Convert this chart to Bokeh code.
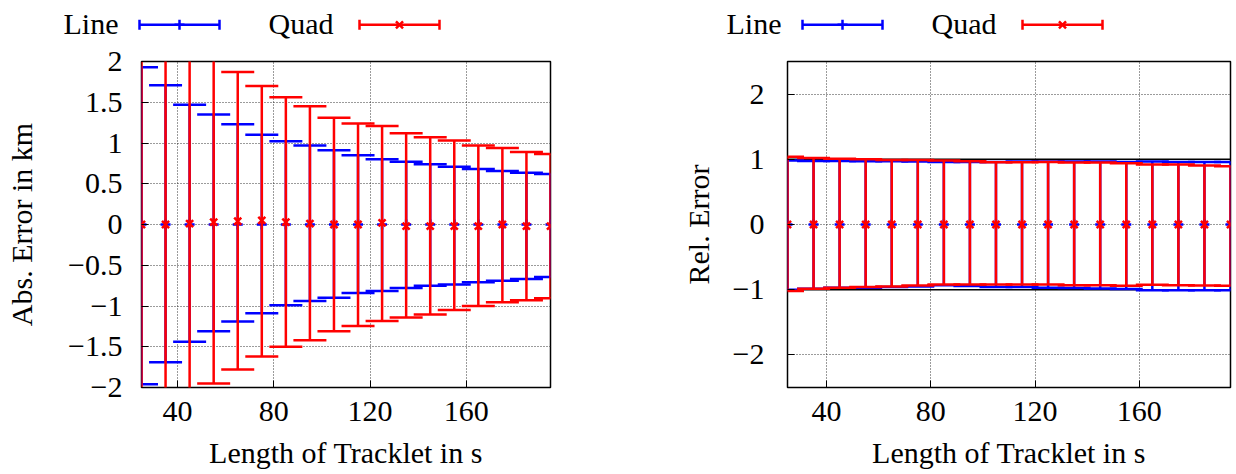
from bokeh.plotting import figure
from bokeh.layouts import row, column
from bokeh.models import Range1d, FixedTicker, CustomJSTickFormatter, ColumnDataSource
from bokeh.core.properties import value
from bokeh.embed import file_html
from bokeh.resources import INLINE

# ---------------- data ----------------
tracklet_len = [25, 35, 45, 55, 65, 75, 85, 95, 105, 115, 125, 135, 145, 155, 165, 175, 185, 195]

# absolute error (km)
line_abs_mid = [0.0, 0.0, 0.0, 0.0, 0.0, 0.0, 0.0, 0.0, 0.0, 0.0, 0.0, 0.0, 0.0, 0.0, 0.0, 0.0, 0.0, 0.0]
line_abs_hi = [1.93, 1.71, 1.47, 1.35, 1.23, 1.10, 1.02, 0.97, 0.91, 0.85, 0.80, 0.77, 0.74, 0.71, 0.68, 0.655, 0.635, 0.62]
line_abs_lo = [-1.96, -1.69, -1.44, -1.31, -1.19, -1.09, -0.99, -0.94, -0.90, -0.84, -0.815, -0.78, -0.75, -0.735, -0.71, -0.69, -0.67, -0.645]
quad_abs_mid = [0.0, 0.0, 0.01, 0.03, 0.04, 0.05, 0.03, 0.01, 0.0, 0.0, 0.02, -0.02, -0.02, -0.02, -0.02, 0.0, -0.02, -0.02]
quad_abs_hi = [2.9, 2.6, 2.3, 2.05, 1.87, 1.70, 1.56, 1.45, 1.31, 1.24, 1.21, 1.12, 1.07, 1.03, 0.97, 0.94, 0.89, 0.865]
quad_abs_lo = [-2.9, -2.6, -2.3, -1.95, -1.78, -1.62, -1.50, -1.42, -1.31, -1.245, -1.185, -1.14, -1.105, -1.05, -1.0, -0.955, -0.93, -0.905]

# relative error
line_rel_mid = [0.0, 0.0, 0.0, 0.0, 0.0, 0.0, 0.0, 0.0, 0.0, 0.0, 0.0, 0.0, 0.0, 0.0, 0.0, 0.0, 0.0, 0.0]
line_rel_hi = [0.98, 0.975, 0.975, 0.97, 0.97, 0.965, 0.96, 0.96, 0.96, 0.965, 0.965, 0.965, 0.965, 0.96, 0.965, 0.96, 0.96, 0.96]
line_rel_lo = [-1.0, -0.985, -0.97, -0.97, -0.96, -0.95, -0.93, -0.945, -0.96, -0.96, -0.97, -0.975, -0.98, -0.99, -1.01, -1.01, -1.01, -1.01]
quad_rel_mid = [0.0, 0.0, 0.0, 0.0, 0.0, 0.0, 0.0, 0.0, 0.0, 0.0, 0.0, 0.0, 0.0, 0.0, 0.0, 0.0, 0.0, 0.0]
quad_rel_hi = [1.04, 1.02, 1.01, 1.0, 0.99, 0.99, 0.98, 0.97, 0.955, 0.955, 0.96, 0.95, 0.95, 0.94, 0.92, 0.92, 0.905, 0.895]
quad_rel_lo = [-1.02, -0.985, -0.97, -0.96, -0.95, -0.935, -0.92, -0.92, -0.92, -0.92, -0.92, -0.93, -0.93, -0.94, -0.925, -0.93, -0.935, -0.94]

# reference band (+/-1) in the relative plot
ref_x = [25, 195]
ref_hi = [1.0, 1.0]
ref_lo = [-1.0, -1.0]

x_ticks = [40, 80, 120, 160]
abs_y_ticks = [-2, -1.5, -1, -0.5, 0, 0.5, 1, 1.5, 2]
rel_y_ticks = [-2, -1, 0, 1, 2]

series_names = ["Line", "Quad"]

# ---------------- style / layout ----------------
FONT = "Liberation Serif"
FS = "30px"
BLUE = "#0000ff"
RED = "#ff0000"
LW = 2.5
CAP = 33
FRAME_H = 326
TOP_BORDER = 17
BOTTOM_BORDER = 86
LEG_H = 44
L1_W = (141, 409, 125)   # left border, frame width, right border
L2_W = (112, 443, 5)

minus_fmt = "return String(tick).replace('-', '\u2212');"


def make_plot(y_range, yticks, ylabel, series, widths, tick_standoff, label_standoff, ref=None):
    bl, fw, br = widths
    p = figure(frame_width=fw, frame_height=FRAME_H,
               min_border_left=bl, min_border_right=br,
               min_border_top=TOP_BORDER, min_border_bottom=BOTTOM_BORDER,
               x_range=Range1d(min(tracklet_len), max(tracklet_len)),
               y_range=Range1d(*y_range),
               toolbar_location=None, tools="", output_backend="svg")
    p.background_fill_color = "white"
    p.border_fill_color = "white"
    p.outline_line_color = "black"
    p.outline_line_width = 1.5

    xt = FixedTicker(ticks=x_ticks)
    yt = FixedTicker(ticks=yticks)
    p.xaxis.ticker = xt
    p.yaxis.ticker = yt
    p.xgrid.ticker = xt
    p.ygrid.ticker = yt
    for g in (p.xgrid, p.ygrid):
        g.grid_line_color = "#222222"
        g.grid_line_dash = "1 2"
        g.grid_line_width = 1
        g.grid_line_alpha = 0.9

    p.yaxis.formatter = CustomJSTickFormatter(code=minus_fmt)
    for ax in (p.xaxis, p.yaxis):
        ax.axis_line_color = None
        ax.major_tick_in = 7
        ax.major_tick_out = 0
        ax.major_tick_line_color = "black"
        ax.minor_tick_line_color = None
        ax.major_label_text_font = FONT
        ax.major_label_text_font_size = FS
        ax.major_label_text_color = "black"
        ax.axis_label_text_font = FONT
        ax.axis_label_text_font_size = FS
        ax.axis_label_text_font_style = "normal"
        ax.axis_label_text_color = "black"
    p.xaxis.major_label_standoff = 14
    p.xaxis.axis_label_standoff = 12
    p.yaxis.major_label_standoff = tick_standoff
    p.yaxis.axis_label_standoff = label_standoff
    p.xaxis.axis_label = "Length of Tracklet in s"
    p.yaxis.axis_label = ylabel

    if ref is not None:
        rx, rhi, rlo = ref
        p.line(rx, rhi, line_color="black", line_width=1.5)
        p.line(rx, rlo, line_color="black", line_width=1.5)

    for mid, lo, hi, color, marker in series:
        src = ColumnDataSource(dict(x=tracklet_len, mid=mid, lo=lo, hi=hi))
        p.segment(x0="x", y0="lo", x1="x", y1="hi", source=src,
                  line_color=color, line_width=LW)
        p.scatter(x="x", y="hi", marker="dash", size=CAP, source=src,
                  line_color=color, line_width=LW)
        p.scatter(x="x", y="lo", marker="dash", size=CAP, source=src,
                  line_color=color, line_width=LW)
        p.scatter(x="x", y="mid", marker=marker, size=10, source=src,
                  line_color=color, line_width=LW)
    return p


def make_legend(total_w, starts):
    """Legend strip above both panels: text first, then the error-bar sample (gnuplot style)."""
    lg = figure(width=total_w, height=LEG_H, x_range=Range1d(0, total_w), y_range=Range1d(0, LEG_H),
                min_border=0, x_axis_type=None, y_axis_type=None,
                toolbar_location=None, tools="", output_backend="svg")
    lg.outline_line_color = None
    lg.background_fill_color = "white"
    lg.border_fill_color = "white"
    text_y = 21.5
    yc = 19.7
    text_off = [0, 205]
    sample_off = [76, 296]
    colors = [BLUE, RED]
    markers = ["cross", "x"]
    for x0 in starts:
        lg.text(x=[x0 + o for o in text_off], y=[text_y, text_y], text=series_names,
                text_font=value(FONT), text_font_size=FS, text_baseline="middle",
                text_color="black")
        for off, color, marker in zip(sample_off, colors, markers):
            xa = x0 + off
            xb = xa + 80
            lg.segment(x0=[xa, xa, xb], y0=[yc, yc - 5, yc - 5], x1=[xb, xa, xb], y1=[yc, yc + 5, yc + 5],
                       line_color=color, line_width=LW)
            lg.scatter(x=[(xa + xb) / 2], y=[yc], marker=marker, size=10,
                       line_color=color, line_width=LW)
    return lg


p1 = make_plot((-2, 2), abs_y_ticks, "Abs. Error in km",
               [(line_abs_mid, line_abs_lo, line_abs_hi, BLUE, "cross"),
                (quad_abs_mid, quad_abs_lo, quad_abs_hi, RED, "x")],
               L1_W, tick_standoff=19, label_standoff=27)
p2 = make_plot((-2.5, 2.5), rel_y_ticks, "Rel. Error",
               [(line_rel_mid, line_rel_lo, line_rel_hi, BLUE, "cross"),
                (quad_rel_mid, quad_rel_lo, quad_rel_hi, RED, "x")],
               L2_W, tick_standoff=23, label_standoff=15,
               ref=(ref_x, ref_hi, ref_lo))

w1 = sum(L1_W)
w2 = sum(L2_W)
lg = make_legend(w1 + w2, [63, 726])

layout = column(lg, row(p1, p2))

open("out.html", "w").write(file_html(layout, INLINE))
